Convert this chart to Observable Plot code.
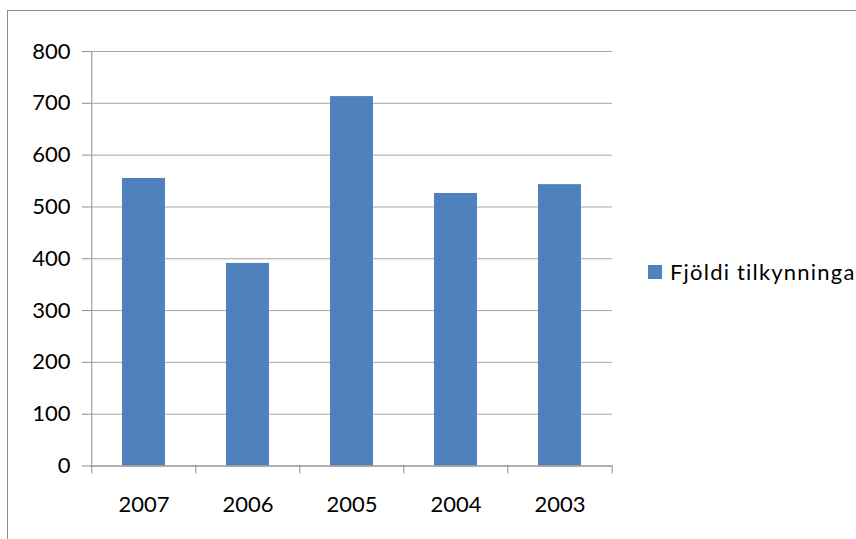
<!DOCTYPE html>
<html>
<head>
<meta charset="utf-8">
<script src="https://cdn.jsdelivr.net/npm/d3@7"></script>
<script src="https://cdn.jsdelivr.net/npm/@observablehq/plot@0.6"></script>
<style>
  html, body { margin: 0; padding: 0; background: #fff; overflow: hidden; }
  #wrap { position: relative; width: 856px; height: 539px; font-family: Lato, "Open Sans", sans-serif; }
  #border { position: absolute; left: 7px; top: 10px; width: 900px; height: 600px;
            border-left: 1px solid #8c8c8c; border-top: 1px solid #8c8c8c; }
  #legend { position: absolute; left: 648px; top: 258px; display: flex; align-items: center;
            font-size: 22px; color: #000; letter-spacing: 1.2px; white-space: nowrap; }
  #legend .sw { width: 14px; height: 14px; background: #4f81bd; margin-right: 8px; }
  #chart { position: absolute; left: 0; top: 0; }
</style>
</head>
<body>
<div id="wrap">
  <div id="border"></div>
  <div id="chart"></div>
  <div id="legend"><span class="sw"></span><span id="legend-label"></span></div>
</div>
<script>
// Annual number of notifications
const years = ["2007", "2006", "2005", "2004", "2003"];
const counts = [555, 391, 713, 526, 543];
const yTicks = [0, 100, 200, 300, 400, 500, 600, 700, 800];
const seriesName = "Fjöldi tilkynninga";

const data = years.map((year, i) => ({year, count: counts[i]}));

const width = 856, height = 539;
const marginLeft = 90, marginRight = 244, marginTop = 51, marginBottom = 73.5;
const step = (width - marginLeft - marginRight) / years.length;
const gap = 0.59;

const chart = Plot.plot({
  width, height, marginLeft, marginRight, marginTop, marginBottom,
  style: {fontFamily: "Lato, 'Open Sans', sans-serif", fontSize: "22px", color: "#000", background: "transparent"},
  x: {domain: years, paddingInner: gap, paddingOuter: gap / 2, label: null},
  y: {domain: [0, 800], label: null},
  marks: [
    Plot.gridY(yTicks, {stroke: "#a6a6a6", strokeOpacity: 1}),
    Plot.barY(data, {x: "year", y: "count", fill: "#4f81bd"}),
    // value axis line and category axis line
    Plot.ruleX([years[0]], {y1: 0, y2: 800, dx: -step / 2, stroke: "#8c8c8c"}),
    Plot.ruleY([0], {stroke: "#8c8c8c"}),
    // category boundary ticks
    Plot.ruleX(years, {y1: 0, y2: 0, insetBottom: -8, dx: -step / 2, stroke: "#8c8c8c"}),
    Plot.ruleX([years[years.length - 1]], {y1: 0, y2: 0, insetBottom: -8, dx: step / 2, stroke: "#8c8c8c"}),
    Plot.axisY({ticks: yTicks, tickSize: 8, tickPadding: 12, stroke: "#8c8c8c", fill: "#000", label: null}),
    Plot.axisX({tickSize: 0, tickPadding: 30, fill: "#000", label: null})
  ]
});

document.getElementById("chart").appendChild(chart);
document.getElementById("legend-label").textContent = seriesName;
</script>
</body>
</html>
